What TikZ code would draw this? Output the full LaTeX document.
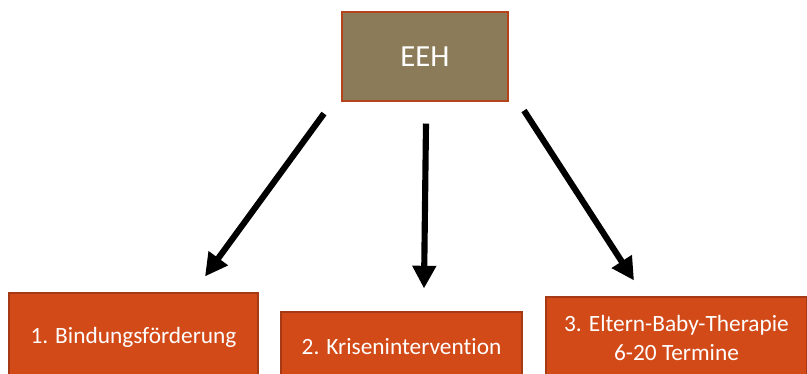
\documentclass[tikz,border=0pt]{standalone}
\usepackage{fontspec}
\setmainfont{Carlito}[Ligatures=NoCommon]
\usetikzlibrary{arrows.meta,positioning}

\definecolor{colracine}{HTML}{8C7B58}
\definecolor{colbordracine}{HTML}{B4441C}
\definecolor{colmodule}{HTML}{D24A18}
\definecolor{colbordmodule}{HTML}{A63A16}

\tikzset{
  racine/.style={draw=colbordracine, fill=colracine, line width=0.8pt, text=white,
    minimum width=166*0.75pt, minimum height=89*0.75pt, inner sep=0pt,
    font=\fontsize{23}{27}\selectfont},
  module/.style={draw=colbordmodule, fill=colmodule, line width=0.8pt, text=white,
    inner sep=0pt, align=center, font=\fontsize{17.5}{21.5}\selectfont},
  fleche/.style={line width=4.6pt, -{Triangle[length=17pt,width=17pt]}}
}

\begin{document}
\begin{tikzpicture}[x=0.75pt, y=-0.75pt]

%Cadre
\clip (0,0) rectangle (807,374);
\useasboundingbox (0,0) rectangle (807,374);

%Sommet
\node[racine] (eeh) at (425,56.5) {EEH};

%Modules
\node[module, minimum width=249*0.75pt, minimum height=88*0.75pt] (bindung) at (133.5,337) {1. Bindungsförderung};
\node[module, minimum width=241*0.75pt, minimum height=70*0.75pt] (krise) at (401.5,347) {2. Krisenintervention};
\node[module, minimum width=261*0.75pt, minimum height=82*0.75pt] (therapie) at (676.5,338) {3. Eltern-Baby-Therapie\\6-20 Termine};

%Flèches
\draw[fleche] ([shift={(-101,12)}]eeh.south) -- ([shift={(71.5,-16)}]bindung.north);
\draw[fleche] ([shift={(1,22)}]eeh.south) -- ([shift={(22.5,-23)}]krise.north);
\draw[fleche] ([shift={(99,9)}]eeh.south) -- ([shift={(-42.5,-16)}]therapie.north);

\end{tikzpicture}
\end{document}
